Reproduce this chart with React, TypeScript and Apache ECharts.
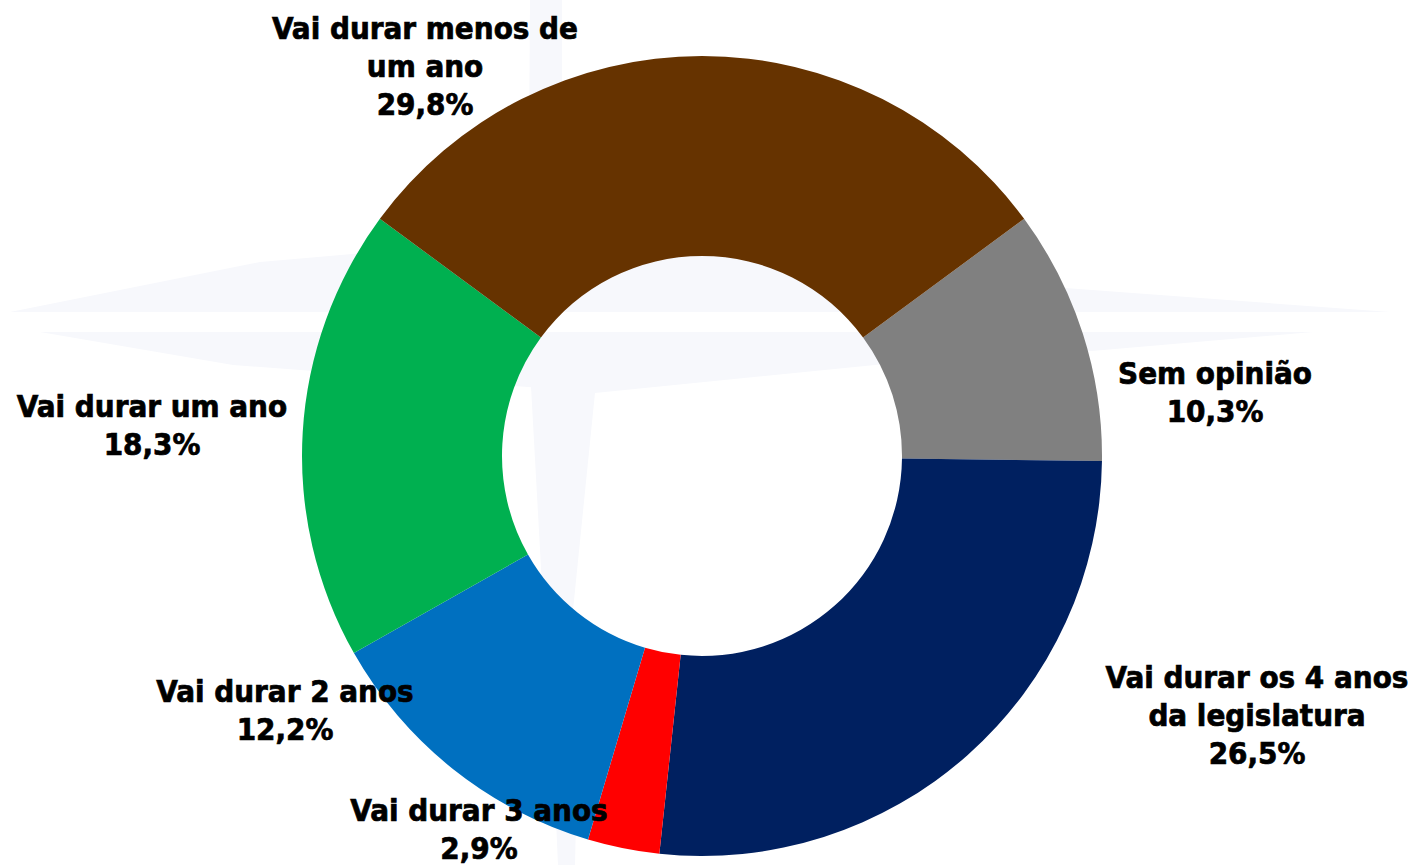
import React, { useEffect, useRef } from "react";
import * as echarts from "echarts";

const categories = [
  "Sem opinião",
  "Vai durar os 4 anos\nda legislatura",
  "Vai durar 3 anos",
  "Vai durar 2 anos",
  "Vai durar um ano",
  "Vai durar menos de\num ano",
];
const values = [10.3, 26.5, 2.9, 12.2, 18.3, 29.8];
const colors = ["#808080", "#002060", "#FF0000", "#0070C0", "#00B050", "#663300"];
// label block centres (layout only)
const labelPos: [number, number][] = [
  [1215, 392],
  [1257, 715],
  [479, 829],
  [285, 710],
  [152, 425],
  [425, 66],
];

const WM = "#F7F8FC";

export default function App() {
  const ref = useRef<HTMLDivElement>(null);
  useEffect(() => {
    if (!ref.current) return;
    const chart = echarts.init(ref.current, undefined, { renderer: "svg" });
    const total = values.reduce((a, b) => a + b, 0);
    const lastShare = values[values.length - 1] / total;
    const startAngle = 90 - (lastShare * 360) / 2;
    chart.setOption({
      animation: false,
      backgroundColor: "#ffffff",
      graphic: [
        { type: "polygon", z: 0, shape: { points: [[530, 0], [562, 0], [562, 312], [528, 312]] }, style: { fill: WM } },
        { type: "polygon", z: 0, shape: { points: [[10, 312], [260, 262], [560, 236], [1065, 288], [1390, 312]] }, style: { fill: WM } },
        { type: "polygon", z: 0, shape: { points: [[40, 332], [1313, 332], [1080, 352], [700, 400], [233, 365]] }, style: { fill: WM } },
        { type: "polygon", z: 0, shape: { points: [[528, 332], [905, 332], [905, 640], [545, 640]] }, style: { fill: WM } },
        { type: "polygon", z: 0, shape: { points: [[595, 393], [905, 362], [905, 660], [568, 660]] }, style: { fill: "#ffffff" } },
        { type: "polygon", z: 0, shape: { points: [[548, 640], [580, 640], [575, 865], [558, 865]] }, style: { fill: WM } },
      ],
      series: [
        {
          type: "pie",
          z: 2,
          center: [702, 456],
          radius: [200, 400],
          startAngle,
          clockwise: true,
          avoidLabelOverlap: false,
          labelLine: { show: false },
          itemStyle: { borderWidth: 0 },
          emphasis: { disabled: true },
          label: {
            show: true,
            position: "outside",
            color: "#000000",
            fontFamily: "'DejaVu Sans Condensed', 'DejaVu Sans', sans-serif",
            fontWeight: "bold",
            fontSize: 31,
            lineHeight: 38,
            align: "center",
            textBorderColor: "#000000",
            textBorderWidth: 0.7,
            formatter: (p: any) =>
              `${p.name}\n${Number(p.value).toFixed(1).replace(".", ",")}%`,
          },
          labelLayout: (p: any) => {
            const pos = labelPos[p.dataIndex];
            return { x: pos[0], y: pos[1], align: "center", verticalAlign: "middle" };
          },
          data: categories.map((c, i) => ({
            name: c,
            value: values[i],
            itemStyle: { color: colors[i] },
          })),
        },
      ],
    });
    return () => chart.dispose();
  }, []);
  return (
    <div
      ref={ref}
      style={{ position: "fixed", left: 0, top: 0, width: 1414, height: 865 }}
    />
  );
}
